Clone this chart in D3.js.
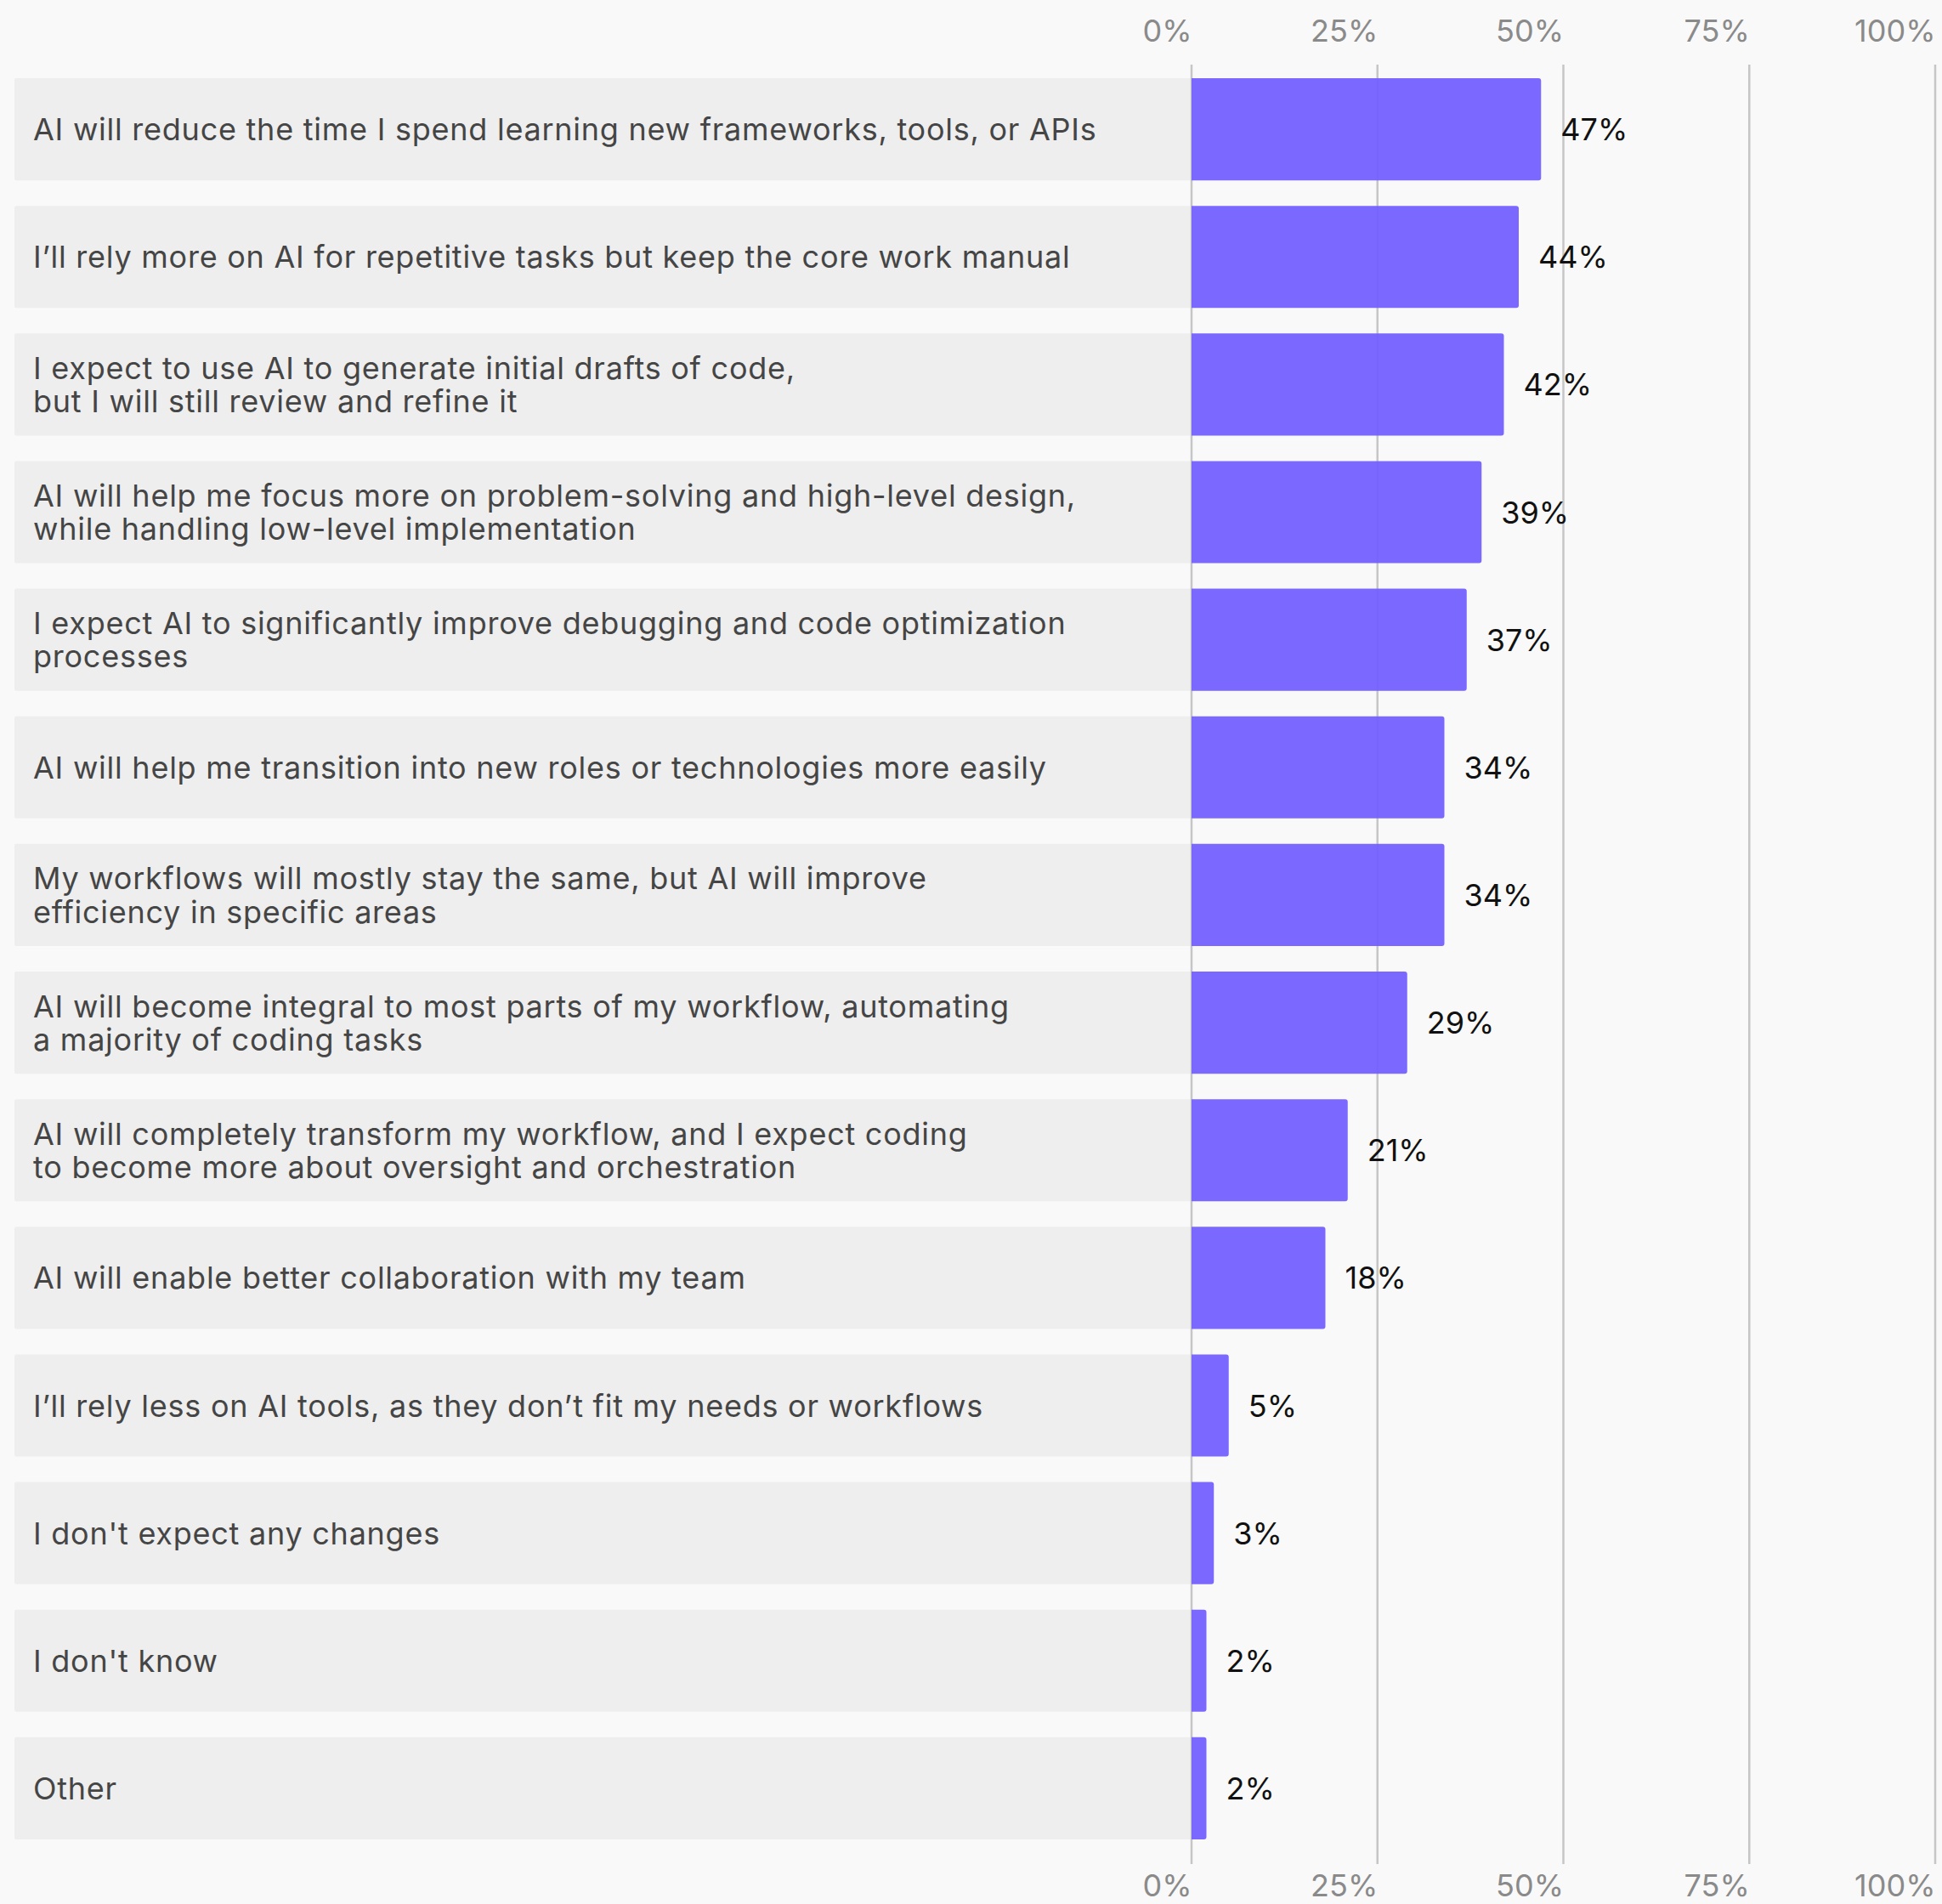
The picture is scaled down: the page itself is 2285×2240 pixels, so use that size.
<!DOCTYPE html>
<html>
<head>
<meta charset="utf-8">
<script src="https://cdn.jsdelivr.net/npm/d3@7"></script>
<style>
  html, body { margin: 0; padding: 0; background: #F9F9F9; }
  svg { display: block; }
</style>
</head>
<body>
<svg id="chart" width="2285" height="2240"></svg>
<script>
// Answer options (line breaks marked with "\n") and share of respondents, %
const answers = [
  "AI will reduce the time I spend learning new frameworks, tools, or APIs",
  "I’ll rely more on AI for repetitive tasks but keep the core work manual",
  "I expect to use AI to generate initial drafts of code,\nbut I will still review and refine it",
  "AI will help me focus more on problem-solving and high-level design,\nwhile handling low-level implementation",
  "I expect AI to significantly improve debugging and code optimization\nprocesses",
  "AI will help me transition into new roles or technologies more easily",
  "My workflows will mostly stay the same, but AI will improve\nefficiency in specific areas",
  "AI will become integral to most parts of my workflow, automating\na majority of coding tasks",
  "AI will completely transform my workflow, and I expect coding\nto become more about oversight and orchestration",
  "AI will enable better collaboration with my team",
  "I’ll rely less on AI tools, as they don’t fit my needs or workflows",
  "I don't expect any changes",
  "I don't know",
  "Other"
];
const shares = [47, 44, 42, 39, 37, 34, 34, 29, 21, 18, 5, 3, 2, 2];
const tickValues = [0, 25, 50, 75, 100];

const rows = answers.map((a, i) => ({ id: i, label: a, value: shares[i] }));

const svg = d3.select("#chart");
const FONT = "Inter, 'Noto Sans', sans-serif";

const labelLeft = 17;
const textLeft = 39;
const x = d3.scaleLinear().domain([0, 100]).range([1402, 2277]);
const y = d3.scaleBand()
  .domain(rows.map(d => d.id))
  .range([77, 2179])
  .paddingInner(0.2)
  .paddingOuter(0.1);

// Grey label panels
svg.append("g").selectAll("rect")
  .data(rows).join("rect")
  .attr("x", labelLeft)
  .attr("y", d => y(d.id))
  .attr("width", x(0) - labelLeft)
  .attr("height", y.bandwidth())
  .attr("rx", 2)
  .attr("fill", "#EEEEEE");

// Vertical grid lines
svg.append("g").selectAll("line")
  .data(tickValues).join("line")
  .attr("x1", d => x(d)).attr("x2", d => x(d))
  .attr("y1", 76).attr("y2", 2193)
  .attr("stroke", "#C6C6C6")
  .attr("stroke-width", 2.5);

// Bars (slightly translucent so grid lines show through)
const barPath = d => {
  const x0 = x(0), x1 = x(d.value), y0 = y(d.id), h = y.bandwidth();
  const r = Math.min(3, (x1 - x0) / 2);
  const p = d3.path();
  p.moveTo(x0, y0);
  p.lineTo(x1 - r, y0);
  p.arcTo(x1, y0, x1, y0 + r, r);
  p.lineTo(x1, y0 + h - r);
  p.arcTo(x1, y0 + h, x1 - r, y0 + h, r);
  p.lineTo(x0, y0 + h);
  p.closePath();
  return p.toString();
};
svg.append("g").selectAll("path")
  .data(rows).join("path")
  .attr("d", barPath)
  .attr("fill", "#7461FF")
  .attr("fill-opacity", 0.95);

// Answer labels, vertically centred on the cap height
const fontSize = 36;
const capHalf = fontSize * 0.727 / 2;
const lineGap = 39.3;
svg.append("g").selectAll("text")
  .data(rows).join("text")
  .attr("font-family", FONT)
  .attr("font-size", fontSize)
  .attr("letter-spacing", 0.75)
  .attr("fill", "#454545")
  .each(function(d) {
    const lines = d.label.split("\n");
    const cy = y(d.id) + y.bandwidth() / 2;
    const first = cy - (lines.length - 1) * lineGap / 2 + capHalf;
    d3.select(this).selectAll("tspan")
      .data(lines).join("tspan")
      .attr("x", textLeft)
      .attr("y", (l, i) => first + i * lineGap)
      .text(l => l);
  });

// Value labels
svg.append("g").selectAll("text")
  .data(rows).join("text")
  .attr("font-family", FONT)
  .attr("font-size", 36)
  .attr("fill", "#111111")
  .attr("x", d => x(d.value) + 23)
  .attr("y", d => y(d.id) + y.bandwidth() / 2 + capHalf)
  .text(d => d.value + "%");

// Top and bottom percentage axes
const fmt = d => d + "%";
const topAxis = d3.axisTop(x).tickValues(tickValues).tickFormat(fmt).tickSize(0).tickPadding(0);
const bottomAxis = d3.axisBottom(x).tickValues(tickValues).tickFormat(fmt).tickSize(0).tickPadding(0);

function styleAxis(g, baseline) {
  g.select(".domain").remove();
  g.selectAll("text")
    .attr("font-family", FONT)
    .attr("font-size", 36)
    .attr("fill", "#8A8A8A")
    .attr("text-anchor", "end")
    .attr("dy", null)
    .attr("y", baseline);
}
svg.append("g").call(topAxis).call(g => styleAxis(g, 49));
svg.append("g").call(bottomAxis).call(g => styleAxis(g, 2231));
</script>
</body>
</html>
